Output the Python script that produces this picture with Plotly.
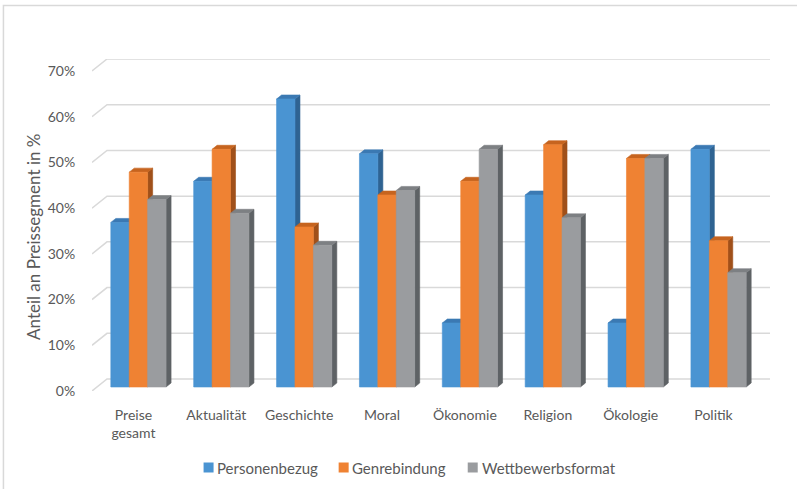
import plotly.graph_objects as go

# ---------------- data ----------------
categories = ["Preise<br>gesamt", "Aktualität", "Geschichte", "Moral",
              "Ökonomie", "Religion", "Ökologie", "Politik"]
series_names = ["Personenbezug", "Genrebindung", "Wettbewerbsformat"]
personenbezug = [36, 45, 63, 51, 14, 42, 14, 52]
genrebindung = [47, 52, 35, 42, 45, 53, 50, 32]
wettbewerbsformat = [41, 38, 31, 43, 52, 37, 50, 25]
y_tick_values = [0, 10, 20, 30, 40, 50, 60, 70]
y_tick_labels = ["0%", "10%", "20%", "30%", "40%", "50%", "60%", "70%"]
y_title = "Anteil an Preissegment in %"

series_values = [personenbezug, genrebindung, wettbewerbsformat]

# ---------------- style ----------------
front_colors = ["#4A94D2", "#EF8233", "#9A9C9F"]
top_colors = ["#3B79B3", "#C6641F", "#7D8083"]
side_colors = ["#2F6392", "#A0501A", "#5E6265"]
grid_color = "#D9D9D9"
text_color = "#595959"
font_family = "Lato, 'Open Sans', sans-serif"

W, H = 797, 489
PLOT_L, PLOT_R = 92.0, 769.6
PLOT_T, PLOT_B = 59.0, 391.0
wall_dx_px, wall_dy_px = 15.0, 12.0   # depth of the 3D floor
n = len(categories)
y_max = y_tick_values[-1]

px_per_cat = (PLOT_R - PLOT_L - wall_dx_px) / n
px_per_unit = (PLOT_B - PLOT_T - wall_dy_px) / y_max
wall_dx = wall_dx_px / px_per_cat
wall_dy = wall_dy_px / px_per_unit
x_range = [-0.5, n - 0.5 + wall_dx]
y_range = [0, y_max + wall_dy]

# bars sit in the middle third of the depth
front_dx, front_dy = wall_dx / 3, wall_dy / 3
depth_dx, depth_dy = wall_dx / 3, wall_dy / 3
gap = 1 / 3
bar_w = (1 - gap) / len(series_values)


def px_to_paper_x(px):
    return (px - PLOT_L) / (PLOT_R - PLOT_L)


def px_to_paper_y(py):
    return (PLOT_B - py) / (PLOT_B - PLOT_T)


fig = go.Figure()

# back wall gridlines (with slanted side-wall part)
gx, gy = [], []
for v in y_tick_values:
    gx += [x_range[0], x_range[0] + wall_dx, x_range[1], None]
    gy += [v, v + wall_dy, v + wall_dy, None]
fig.add_trace(go.Scatter(x=gx, y=gy, mode="lines",
                         line=dict(color=grid_color, width=1.5),
                         hoverinfo="skip", showlegend=False, cliponaxis=False))

# 3D bars
for j, vals in enumerate(series_values):
    sx, sy, tx, ty, fx, fy = [], [], [], [], [], []
    for i, v in enumerate(vals):
        x0 = i - (1 - gap) / 2 + j * bar_w + front_dx
        x1 = x0 + bar_w
        yb = front_dy
        yt = v + front_dy
        # side face
        sx += [x1, x1 + depth_dx, x1 + depth_dx, x1, x1, None]
        sy += [yb, yb + depth_dy, yt + depth_dy, yt, yb, None]
        # top face
        tx += [x0, x1, x1 + depth_dx, x0 + depth_dx, x0, None]
        ty += [yt, yt, yt + depth_dy, yt + depth_dy, yt, None]
        # front face
        fx += [x0, x1, x1, x0, x0, None]
        fy += [yb, yb, yt, yt, yb, None]
    for xs, ys, col in ((sx, sy, side_colors[j]), (tx, ty, top_colors[j]),
                        (fx, fy, front_colors[j])):
        fig.add_trace(go.Scatter(x=xs, y=ys, mode="lines", fill="toself",
                                 fillcolor=col, line=dict(color=col, width=0.6),
                                 hoverinfo="skip", showlegend=False,
                                 name=series_names[j]))

fig.update_layout(
    width=W, height=H,
    margin=dict(l=PLOT_L, r=W - PLOT_R, t=PLOT_T, b=H - PLOT_B, autoexpand=False),
    paper_bgcolor="white", plot_bgcolor="white",
    font=dict(family=font_family, size=14, color=text_color),
    showlegend=False,
    xaxis=dict(range=x_range, tickmode="array", tickvals=list(range(n)),
               ticktext=categories, showgrid=False, zeroline=False,
               showline=False, ticks="outside", ticklen=11,
               tickcolor="rgba(0,0,0,0)", fixedrange=True,
               tickfont=dict(size=14, color=text_color)),
    yaxis=dict(range=y_range, tickmode="array", tickvals=y_tick_values,
               ticktext=y_tick_labels, showgrid=False, zeroline=False,
               showline=False, ticks="outside", ticklen=13,
               tickcolor="rgba(0,0,0,0)", fixedrange=True,
               tickfont=dict(size=14, color=text_color)),
)

# axis title
fig.add_annotation(text=y_title, textangle=-90, showarrow=False,
                   xref="paper", yref="paper",
                   x=px_to_paper_x(33), y=px_to_paper_y(237),
                   xanchor="center", yanchor="middle",
                   font=dict(size=17, color=text_color, family=font_family))

# legend (manual, Excel-like tight layout)
legend_square_x = [203.5, 338.5, 467.5]
legend_text_x = [215, 350, 480]
legend_y = 467.5
sq = 10
for j, name in enumerate(series_names):
    fig.add_shape(type="rect", xref="paper", yref="paper",
                  x0=px_to_paper_x(legend_square_x[j]),
                  x1=px_to_paper_x(legend_square_x[j] + sq),
                  y0=px_to_paper_y(legend_y + sq / 2),
                  y1=px_to_paper_y(legend_y - sq / 2),
                  fillcolor=front_colors[j], line=dict(width=0))
    fig.add_annotation(text=name, showarrow=False, xref="paper", yref="paper",
                       x=px_to_paper_x(legend_text_x[j]), y=px_to_paper_y(legend_y),
                       xanchor="left", yanchor="middle",
                       font=dict(size=15, color=text_color, family=font_family))

# chart border (partially visible, as in the screenshot)
fig.add_shape(type="rect", xref="paper", yref="paper",
              x0=px_to_paper_x(3.5), x1=px_to_paper_x(805),
              y0=px_to_paper_y(500), y1=px_to_paper_y(5.5),
              line=dict(color="#D9D9D9", width=1.5), fillcolor="rgba(0,0,0,0)",
              layer="below")

fig.write_html("out.html",
               config={"displayModeBar": False},
               post_script="document.body.style.margin='0';"
                           "document.body.style.overflow='hidden';")
